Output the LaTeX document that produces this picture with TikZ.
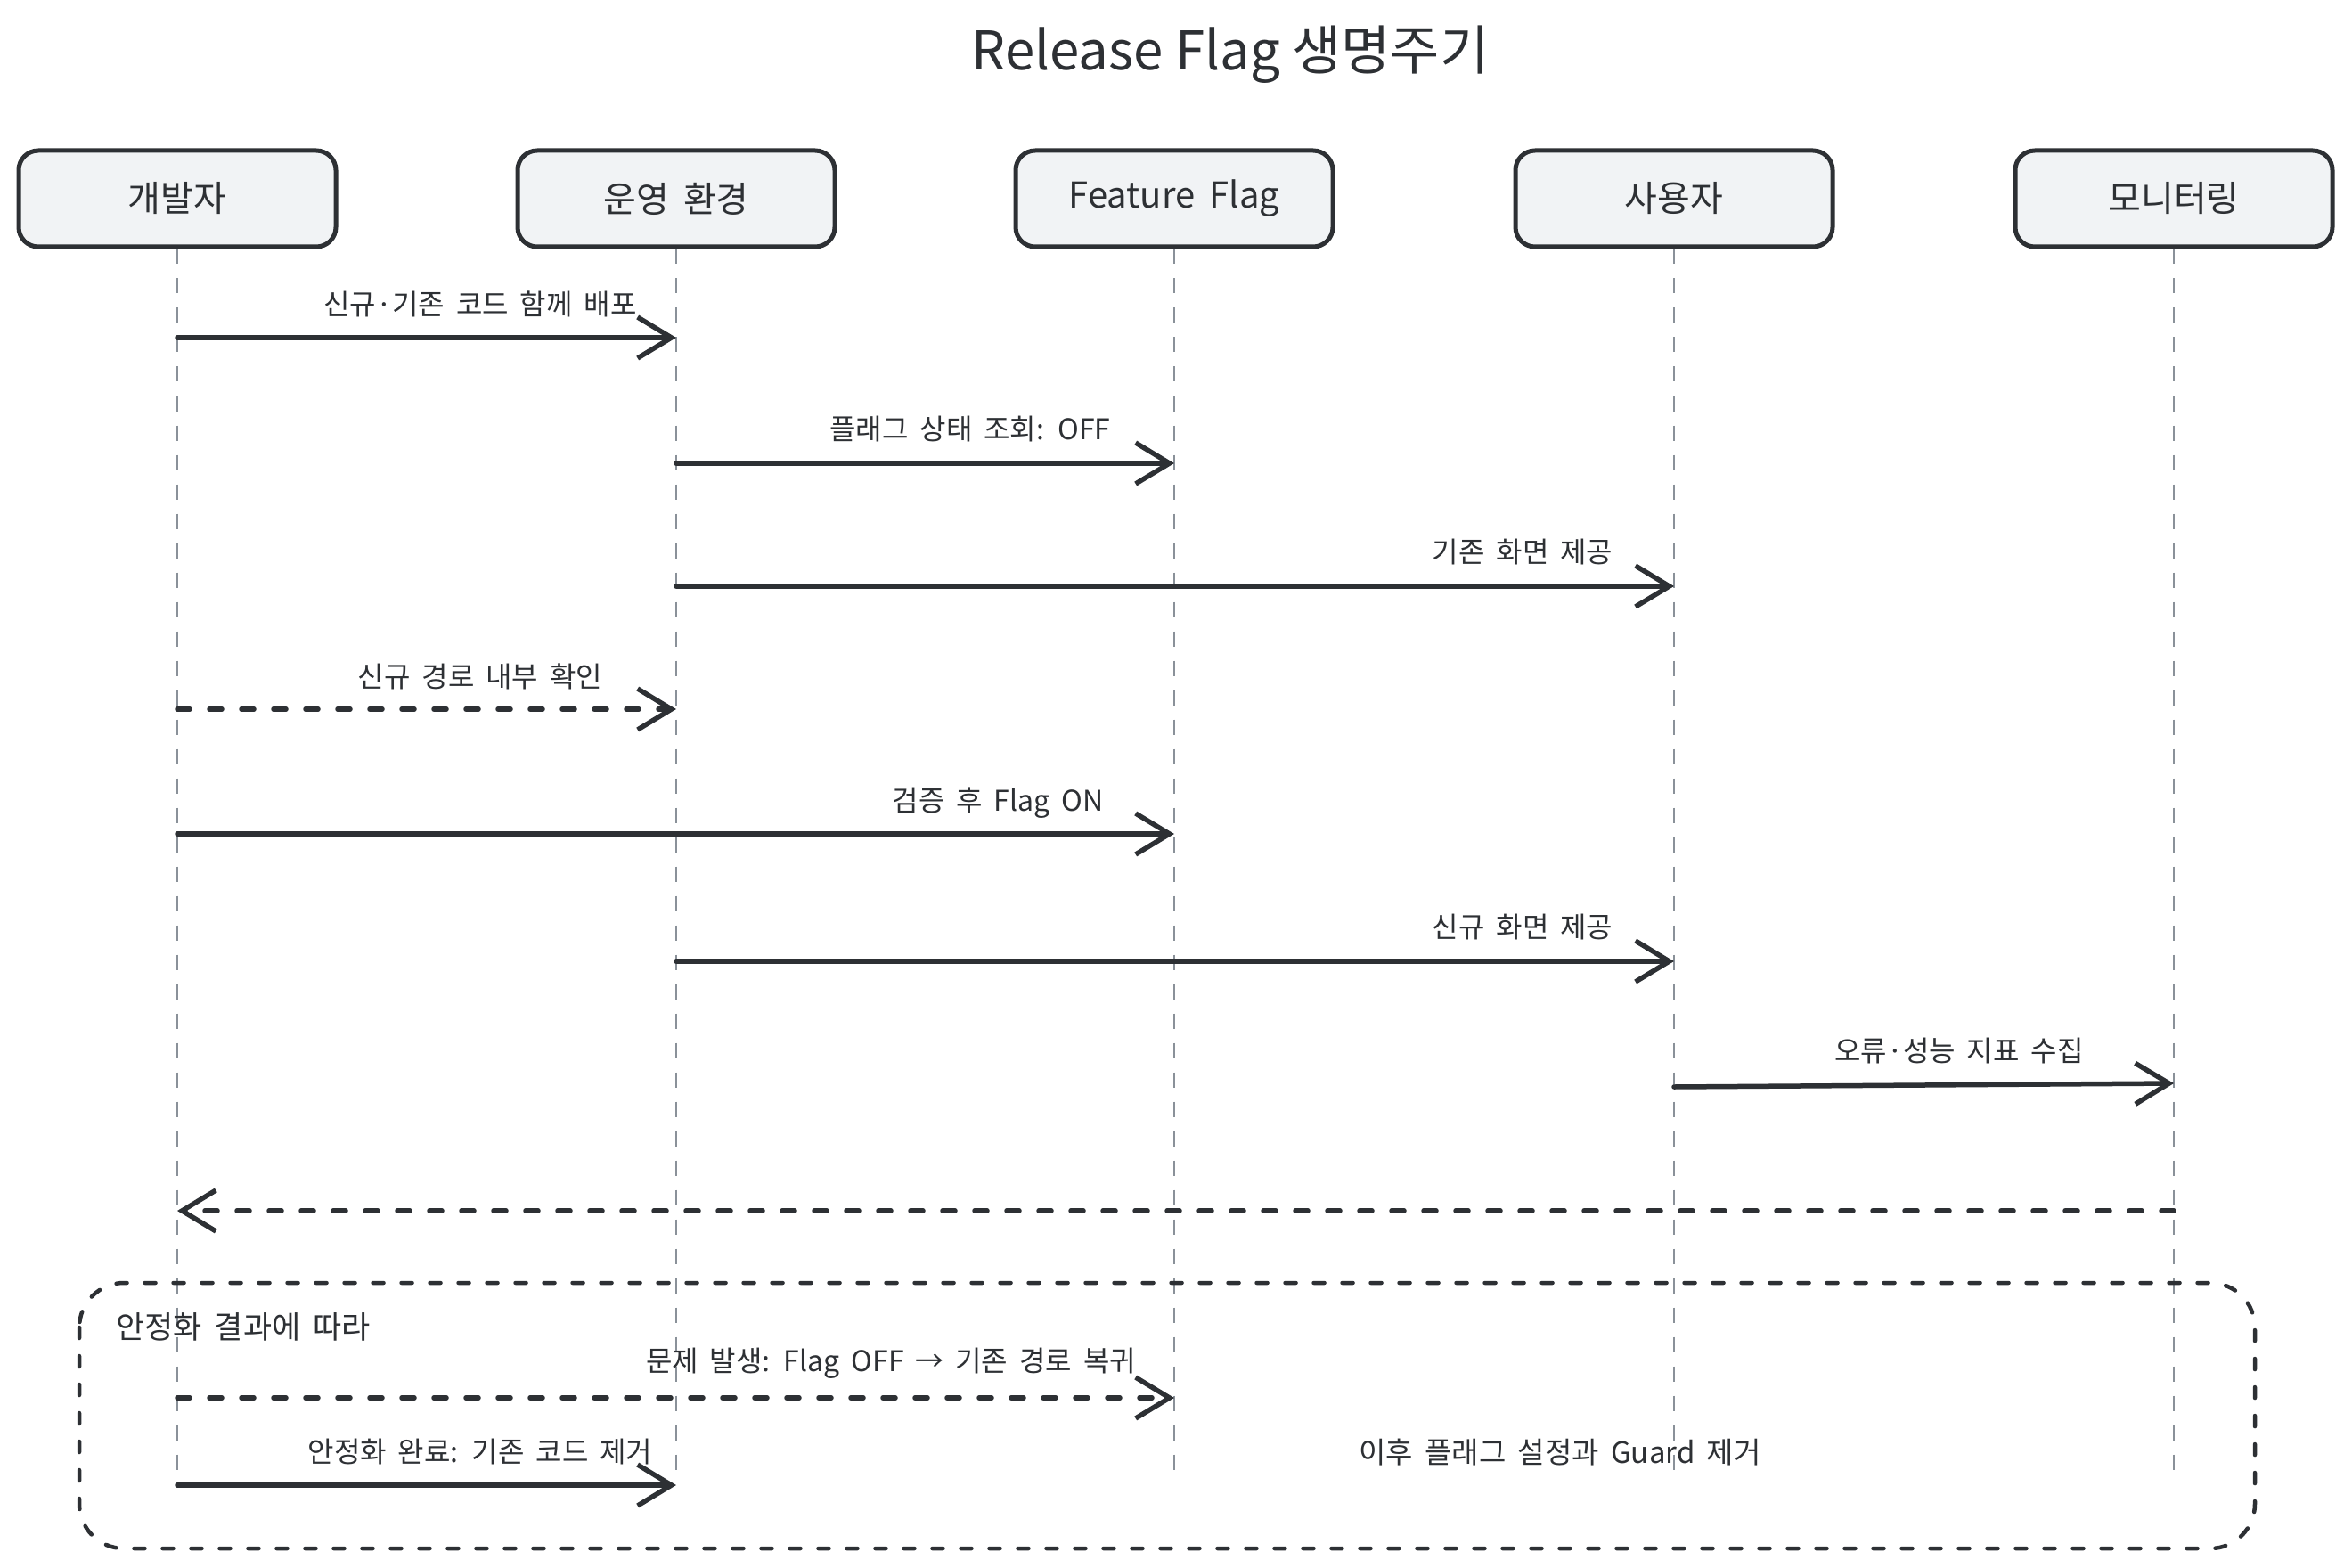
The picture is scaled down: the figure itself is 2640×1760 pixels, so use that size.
\documentclass[tikz,border=0pt]{standalone}
\usepackage{fontspec}
\setmainfont{Noto Sans CJK KR}[WordSpace=1.8]
\newfontfamily\titlefamily{Noto Sans CJK KR}
\usetikzlibrary{arrows.meta}
\definecolor{ink}{HTML}{2D3034}
\definecolor{boxfill}{HTML}{F1F3F5}
\definecolor{lifegray}{HTML}{8A9199}
\begin{document}
\begin{tikzpicture}[x=1pt,y=-1pt,
  actor/.style={draw=ink, line width=5pt, fill=boxfill, rounded corners=22pt,
    minimum width=356pt, minimum height=108pt, inner sep=0pt,
    font=\fontsize{40}{44}\selectfont, text=ink},
  lifeline/.style={draw=lifegray, line width=2pt, dash pattern=on 17pt off 16pt},
  msg/.style={draw=ink, line width=5.5pt, line cap=round,
    -{Straight Barb[length=38pt,width=46pt]}},
  dmsg/.style={msg, dash pattern=on 14pt off 22pt},
  lbl/.style={font=\fontsize{32}{36}\selectfont, text=ink, inner sep=0pt},
  loopbox/.style={draw=ink, line width=4.5pt, line cap=round, rounded corners=50pt,
    dash pattern=on 12pt off 20pt},
  titlef/.style={font=\titlefamily\fontsize{60}{66}\selectfont, text=ink}
]
\useasboundingbox[fill=white] (0,0) rectangle (2640,1760);

\node[titlef] (title) at (1381,61) {Release Flag 생명주기};

\node[actor] (dev) at (199,223) {개발자};
\node[actor] (ops) at (759,223) {운영 환경};
\node[actor] (ff)  at (1318,223) {Feature Flag};
\node[actor] (usr) at (1879,223) {사용자};
\node[actor] (mon) at (2440,223) {모니터링};

\coordinate (devE) at (199,1658);
\coordinate (opsE) at (759,1658);
\coordinate (ffE)  at (1318,1658);
\coordinate (usrE) at (1879,1658);
\coordinate (monE) at (2440,1658);

\draw[lifeline] (dev.south) -- (devE);
\draw[lifeline] (ops.south) -- (opsE);
\draw[lifeline] (ff.south)  -- (ffE);
\draw[lifeline] (usr.south) -- (usrE);
\draw[lifeline] (mon.south) -- (monE);

% loop frame
\draw[loopbox] (89,1440) rectangle (2531,1738);
\node[lbl, anchor=west, font=\fontsize{35}{40}\selectfont] (looplbl) at (130,1489) {안정화 결과에 따라};

% messages
\draw[msg] (dev |- 0,379) -- (ops |- 0,379);
\node[lbl] (l1) at (539,341) {신규·기존 코드 함께 배포};

\draw[msg] (ops |- 0,520) -- (ff |- 0,520);
\node[lbl] (l2) at (1089,482) {플래그 상태 조회: OFF};

\draw[msg] (ops |- 0,658) -- (usr |- 0,658);
\node[lbl] (l3) at (1709,620) {기존 화면 제공};

\draw[dmsg] (dev |- 0,796) -- (ops |- 0,796);
\node[lbl] (l4) at (539,759) {신규 경로 내부 확인};

\draw[msg] (dev |- 0,936) -- (ff |- 0,936);
\node[lbl] (l5) at (1120,901) {검증 후 Flag ON};

\draw[msg] (ops |- 0,1079) -- (usr |- 0,1079);
\node[lbl] (l6) at (1709,1041) {신규 화면 제공};

\draw[msg] (usr |- 0,1220) -- (mon |- 0,1216);
\node[lbl] (l7) at (2199,1180) {오류·성능 지표 수집};

\draw[dmsg] (mon |- 0,1359) -- (dev |- 0,1359);

\draw[dmsg] (dev |- 0,1569) -- (ff |- 0,1569);
\node[lbl] (l9) at (1000,1530) {문제 발생: Flag OFF → 기존 경로 복귀};

\draw[msg] (dev |- 0,1667) -- (ops |- 0,1667);
\node[lbl] (l10) at (539,1630) {안정화 완료: 기존 코드 제거};

\node[lbl, font=\fontsize{33}{37}\selectfont] (note) at (1751,1630) {이후 플래그 설정과 Guard 제거};
\end{tikzpicture}
\end{document}
